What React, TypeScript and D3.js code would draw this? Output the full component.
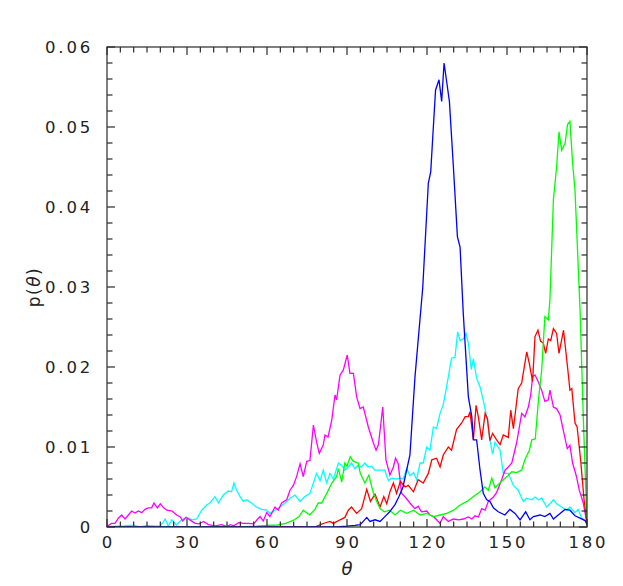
import React from "react";
import * as d3 from "d3";

// Angle θ (degrees) and p(θ) in units of 1e-3
const BLUE: [number, number][] = [
  [0, 0], [86, 0], [90, 0.1], [93, 0.2], [95, 0.3], [97.4, 1.2], [98.6, 0.7], [100.5, 0.9], [102.4, 0.7],
  [104.2, 1.3], [106, 1.9], [108, 2.8], [109.5, 3.8], [111, 5.0], [113.6, 9.0], [115.5, 18.8], [118.4, 29.9],
  [120.5, 43], [121.4, 44.4], [122.1, 48.4], [123.2, 54.6], [124.5, 55.9], [125.5, 53.2], [126.4, 58],
  [128.4, 53.2], [129.9, 45], [131.4, 36.3], [132.4, 35], [133.6, 26.7], [135.5, 16.3], [136.8, 13.8],
  [137.4, 10.9], [138.6, 10.9], [139.9, 7.1], [141.1, 4.2], [142.4, 3.4], [143.6, 3.2], [144.9, 2.4],
  [146.7, 1.9], [149.2, 1.5], [151.1, 2.2], [153, 1.7], [154.9, 0.9], [157, 1.9], [158.6, 0.9], [159.9, 1.3],
  [162.4, 1.5], [164.2, 1.3], [166.1, 1.7], [167.4, 1.0], [169.9, 1.7], [171.7, 2.2], [173.6, 2.1],
  [175.5, 1.4], [177.4, 1.1], [179.3, 0.8], [180, 0.3],
];

const GREEN: [number, number][] = [
  [0, 0], [50, 0], [56, 0.1], [60, 0.2], [64, 0.25], [67, 0.45], [70, 0.85], [72, 1.3], [73.6, 2.1], [76, 1.5],
  [78, 2.2], [79.2, 3.0], [80.5, 3.0], [82.4, 4.2], [84.3, 5.5], [86.1, 6.3], [86.8, 7.3], [88, 5.6], [89.2, 8.0],
  [90, 7.6], [91.2, 8.8], [92.4, 8.2], [94.2, 8.0], [95, 6.7], [96.7, 5.5], [98.2, 6.5], [99.9, 4.2], [101.4, 3.0],
  [102.4, 2.3], [104, 1.9], [106, 2.1], [108, 1.5], [110, 2.1], [112.4, 1.7], [115, 2.1], [117.4, 1.5], [120, 1.7],
  [122.4, 1.3], [125, 1.5], [127.4, 1.7], [130, 2.1], [132.4, 2.75], [135, 3.2], [137.4, 3.8], [139.9, 4.4],
  [141.7, 5.0], [143, 4.6], [144.3, 6.1], [145.5, 4.9], [148.6, 5.9], [150, 6.3], [151.8, 6.9], [153.6, 6.8],
  [155.5, 7.1], [156.7, 8.4], [158.4, 9.6], [159.3, 10.9], [160.6, 11.0], [161.8, 15.9], [163, 19.6],
  [164.2, 26.3], [165.5, 25.9], [166.1, 28.4], [167.4, 40.9], [168.6, 45], [169.5, 49.4], [170.5, 47.1],
  [171.8, 48], [172.7, 50.3], [173.6, 50.7], [174.6, 45.5], [175.5, 42.1], [177.4, 27.1], [178.6, 13.8],
  [179.9, 1.3],
];

const RED: [number, number][] = [
  [0, 0], [78, 0], [80, 0.3], [81.7, 0.5], [83.6, 0.7], [84.9, 0.45], [87.4, 0.9], [89.2, 1.2], [90.5, 2.1],
  [91.7, 2.5], [93.6, 1.7], [95.5, 2.3], [97.4, 4.7], [98.8, 3.2], [100.5, 4.1], [102.4, 2.5], [103.8, 3.8],
  [104.9, 2.9], [106.1, 4.4], [107.4, 5.5], [108.6, 4.2], [110, 5.7], [111.8, 5.0], [113, 5.2], [114.9, 4.4],
  [116.7, 5.9], [118.6, 5.5], [120.5, 6.7], [121.8, 8.4], [123.6, 8.6], [124.9, 7.5], [126.1, 9.0], [128, 10.0],
  [129.2, 9.6], [131.1, 12.2], [133, 13.0], [134.3, 13.8], [135.5, 13.8], [136.1, 14.4], [137.4, 10.9],
  [138.4, 15.2], [139.3, 13.7], [140.5, 10.9], [141.8, 14.2], [142.7, 13.5], [143.6, 10.8], [144.6, 11.7],
  [146.1, 10.9], [147.4, 10.3], [148.6, 11.5], [150.5, 11.2], [151.4, 14.6], [152.4, 12.3], [154.2, 17.3],
  [155.5, 18.0], [157.4, 21.9], [158.4, 20.4], [159.6, 18.2], [160.5, 23.8], [161.6, 24.6], [162.6, 23.2],
  [163.6, 23.0], [164.5, 21.7], [165.5, 23.5], [166.4, 23.3], [167.4, 24.8], [168.6, 24.2], [169.5, 21.7],
  [171.2, 24.6], [172.7, 20.0], [173.6, 17.1], [174.3, 17.3], [175.5, 13.0], [176.3, 12.5], [177.6, 8.4],
  [178.9, 3.4], [180, 0.5],
];

const CYAN: [number, number][] = [
  [0, 0], [3, 0.1], [6, 0.1], [8, 0.2], [10, 0.2], [12.5, 0], [15, 0.2], [18, 0.1], [20, 0.1], [21.8, 1.0],
  [23, 0.1], [24.3, 0.9], [26, 0.25], [28, 0.9], [29.9, 1.2], [31.9, 0.9], [33.6, 1.0], [35.5, 2.1], [37.4, 2.75],
  [38.6, 3.0], [40.5, 3.8], [41.8, 3.0], [43.6, 4.0], [45.5, 4.5], [46.7, 4.4], [47.6, 5.5], [48.6, 4.6],
  [49.9, 3.8], [51.1, 3.2], [52.4, 3.4], [54.2, 3.0], [56, 2.5], [58, 2.2], [59.9, 2.1], [61.1, 1.7], [63, 2.1],
  [64.9, 2.5], [66.8, 3.0], [68.6, 3.6], [70.5, 4.0], [72.4, 3.2], [74.2, 3.8], [76.1, 4.2], [77.4, 5.5],
  [78.6, 6.7], [79.9, 5.8], [81.1, 7.1], [82.4, 5.5], [83.6, 6.7], [84.9, 6.0], [86.8, 8.0], [88, 7.7], [89.2, 7.1],
  [90.5, 7.5], [91.7, 8.0], [92.9, 7.3], [94.2, 7.7], [95.4, 7.5], [96.7, 8.0], [97.9, 7.5], [99.2, 7.6],
  [100.5, 7.1], [102.4, 7.1], [104.2, 7.1], [105.5, 5.8], [106.7, 6.1], [108.6, 6.0], [109.9, 6.1], [111.1, 6.0],
  [112.4, 7.3], [113.6, 6.4], [115, 6.8], [116.1, 5.9], [117.4, 8.0], [118.6, 8.0], [119.9, 10.0], [121.1, 9.6],
  [122.4, 12.5], [123.6, 12.3], [124.9, 14.2], [126.1, 15.3], [127.4, 17.6], [129.2, 21.1], [130.5, 21.2],
  [131.5, 24.4], [132.4, 23.3], [133.6, 23.5], [134.6, 24.2], [135.5, 23.0], [136.6, 19.7], [137.4, 21.0],
  [138.6, 18.6], [139.9, 17.5], [141.1, 15.9], [142.4, 13.75], [143.6, 10.9], [144.6, 9.1], [145.5, 10.6],
  [147.4, 9.6], [148.6, 6.7], [150.5, 6.7], [152.4, 5.2], [154.2, 4.6], [156.1, 3.2], [157.4, 3.6], [159.3, 3.4],
  [160.5, 3.75], [161.8, 3.4], [163, 3.6], [164.9, 2.5], [166.1, 2.9], [167.4, 3.4], [168.6, 2.9], [170.5, 2.5],
  [172.4, 2.1], [173.6, 2.5], [175.5, 1.8], [176.7, 2.2], [178, 1.1], [179.3, 0.8], [180, 0.3],
];

const MAGENTA: [number, number][] = [
  [0, 0.1], [1.75, 0.45], [3, 0.45], [4.25, 1.1], [5.5, 1.5], [6.75, 1.0], [8, 1.5], [9.25, 2.0], [10.5, 1.75],
  [11.75, 2.0], [13, 1.8], [14.25, 2.2], [15.5, 2.4], [16.75, 2.4], [17.6, 3.0], [18.9, 2.4], [20, 2.9],
  [21.25, 2.4], [22.5, 2.1], [24.4, 2.0], [26.1, 1.5], [27.5, 1.25], [28.4, 0.75], [29.6, 1.2], [30.6, 1.0],
  [31.9, 0.7], [33.1, 0.45], [34.5, 0.4], [36.25, 0.7], [38, 0.3], [40.6, 0.15], [43, 0.3], [45, 0.05],
  [46.3, 0.3], [47.5, 0.15], [49.4, 0.55], [51.25, 0.45], [53, 0.45], [55, 0.4], [56.5, 1.0], [57.4, 1.3],
  [58.6, 0.75], [59.9, 1.8], [61.1, 1.3], [63, 2.5], [64.2, 2.1], [65.5, 3.0], [67.4, 3.4], [68.6, 4.6],
  [69.9, 5.2], [71.1, 6.3], [72.4, 7.9], [73.6, 6.3], [74.9, 8.2], [76.1, 8.3], [77.4, 12.75], [78.6, 10.6],
  [79.6, 9.2], [81.1, 10.25], [81.75, 11.5], [82.9, 11.25], [84.3, 13.4], [85.5, 16.5], [86.1, 15.9],
  [87.4, 19.0], [88.6, 19.6], [90.1, 21.5], [91.1, 19.2], [92.4, 19.2], [93.6, 16.3], [94.9, 14.8], [96.1, 15.0],
  [98, 12.5], [99.9, 10.5], [100.9, 9.6], [101.8, 10.3], [103.4, 15.0], [104.6, 8.4], [106.1, 6.5], [107.4, 7.5],
  [108.2, 8.6], [109.2, 7.9], [110.5, 4.2], [111.8, 3.75], [113.6, 3.0], [115.5, 2.3], [116.7, 2.6],
  [117.9, 1.9], [119.9, 2.0], [121.1, 1.5], [122.4, 1.3], [123.6, 0.9], [124.9, 0.45], [126.1, 1.3], [128, 0.7],
  [129.9, 1.0], [131.8, 0.9], [133.6, 1.0], [135.5, 1.25], [136.8, 1.0], [138, 1.4], [139.3, 1.25], [140.5, 2.3],
  [141.8, 2.1], [143, 3.2], [144.9, 3.75], [146.1, 4.3], [148, 5.9], [149.25, 7.1], [150.5, 7.5], [151.8, 8.0],
  [153.6, 10.5], [155.5, 14.2], [156.7, 13.75], [158, 15.0], [158.9, 16.5], [159.6, 18.8], [160.5, 19.0],
  [161.8, 18.1], [163, 17.1], [164.2, 15.7], [165.5, 15.9], [166.1, 17.1], [167.4, 15.0], [168.6, 14.8],
  [169.9, 14.0], [171.1, 12.1], [172.6, 9.8], [173.6, 10.2], [174.6, 8.0], [176.1, 6.25], [177.1, 4.6],
  [178.6, 3.0], [179.9, 0.6],
];

const SERIES: { name: string; color: string; data: [number, number][] }[] = [
  { name: "cyan", color: "#00ffff", data: CYAN },
  { name: "magenta", color: "#ff00ff", data: MAGENTA },
  { name: "red", color: "#ff0000", data: RED },
  { name: "green", color: "#00ff00", data: GREEN },
  { name: "blue", color: "#0000ff", data: BLUE },
];

const X_TICK_LABELS = [0, 30, 60, 90, 120, 150, 180];
const Y_TICK_LABELS = ["0", "0.01", "0.02", "0.03", "0.04", "0.05", "0.06"];
const Y_TICK_VALUES = [0, 0.01, 0.02, 0.03, 0.04, 0.05, 0.06];
const UNIT = 1e-3;

const W = 623;
const H = 586;
const L = 107, R = 587, T = 47, B = 527;

export default function App() {
  const x = d3.scaleLinear().domain([0, 180]).range([L, R]);
  const y = d3.scaleLinear().domain([0, 0.06]).range([B, T]);
  const line = d3
    .line<[number, number]>()
    .x((d) => x(d[0]))
    .y((d) => y(d[1] * UNIT));

  const xMinor = d3.range(0, 181, 5);
  const yMinor = d3.range(0, 31).map((i) => i * 0.002);
  const axisColor = "#2a2a2a";
  const font = "'DejaVu Sans', sans-serif";

  return (
    <svg
      width={W}
      height={H}
      style={{ position: "absolute", left: 0, top: 0, background: "#fff" }}
    >
      <defs>
        <clipPath id="plotclip">
          <rect x={L} y={T - 2} width={R - L} height={B - T + 2} />
        </clipPath>
      </defs>
      <g clipPath="url(#plotclip)">
        {SERIES.map((s) => (
          <path
            key={s.name}
            d={line(s.data) || ""}
            fill="none"
            stroke={s.color}
            strokeWidth={1.3}
            strokeLinejoin="miter"
          />
        ))}
      </g>
      {/* frame */}
      <rect x={L} y={T} width={R - L} height={B - T} fill="none" stroke={axisColor} strokeWidth={1.2} />
      {/* x ticks */}
      {xMinor.map((t) => {
        const major = t % 30 === 0;
        const len = major ? 8 : 5.5;
        return (
          <g key={"xt" + t}>
            <line x1={x(t)} x2={x(t)} y1={B} y2={B - len} stroke={axisColor} strokeWidth={1.2} />
            <line x1={x(t)} x2={x(t)} y1={T} y2={T + len} stroke={axisColor} strokeWidth={1.2} />
          </g>
        );
      })}
      {yMinor.map((v, i) => {
        const major = i % 5 === 0;
        const len = major ? 8 : 5.5;
        return (
          <g key={"yt" + i}>
            <line x1={L} x2={L + len} y1={y(v)} y2={y(v)} stroke={axisColor} strokeWidth={1.2} />
            <line x1={R} x2={R - len} y1={y(v)} y2={y(v)} stroke={axisColor} strokeWidth={1.2} />
          </g>
        );
      })}
      {/* x tick labels */}
      {X_TICK_LABELS.map((t) => (
        <text
          key={"xl" + t}
          x={x(t) + 1.4}
          y={B + 21}
          textAnchor="middle"
          fontFamily={font}
          fontSize={16.5}
          letterSpacing={2.8}
          fill="#222"
        >
          {t}
        </text>
      ))}
      {/* y tick labels */}
      {Y_TICK_VALUES.map((v, i) => (
        <text
          key={"yl" + i}
          x={L - 14}
          y={y(v) + 6}
          textAnchor="end"
          fontFamily={font}
          fontSize={16.5}
          letterSpacing={2.8}
          fill="#222"
        >
          {Y_TICK_LABELS[i]}
        </text>
      ))}
      {/* x axis title */}
      <text
        x={(L + R) / 2}
        y={575}
        textAnchor="middle"
        fontFamily={font}
        fontSize={18}
        fontStyle="italic"
        fill="#222"
      >
        θ
      </text>
      {/* y axis title */}
      <text
        transform={`translate(40, ${(T + B) / 2}) rotate(-90)`}
        textAnchor="middle"
        fontFamily={font}
        fontSize={17}
        letterSpacing={1.5}
        fill="#222"
      >
        p(<tspan fontStyle="italic">θ</tspan>)
      </text>
    </svg>
  );
}
